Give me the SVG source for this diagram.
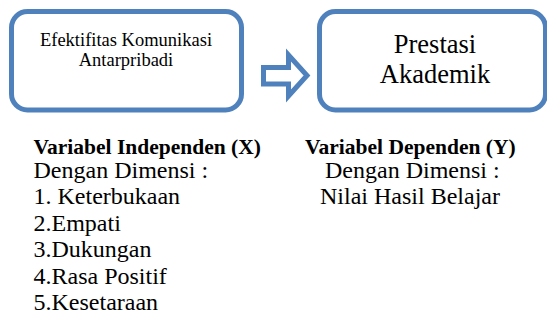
<svg xmlns="http://www.w3.org/2000/svg" width="547" height="320" viewBox="0 0 547 320">
<style>
.box{fill:#fff;stroke:#4F81BD;stroke-width:5}
text{font-family:'Liberation Serif','Times New Roman',Tinos,'DejaVu Serif','Noto Serif',serif;fill:#000}
.b{font-weight:bold;font-size:21.5px}
.r{font-size:24px}
</style>
<rect width="547" height="320" fill="#fff"/>
<g id="node-x">
<rect class="box" x="11.5" y="11.5" width="230" height="98.5" rx="16"/>
<text font-size="18.5" text-anchor="middle"><tspan x="126" y="45.5">Efektifitas Komunikasi</tspan><tspan x="126" y="66">Antarpribadi</tspan></text>
</g>
<g id="node-y">
<rect class="box" x="319.5" y="11.5" width="226" height="98.5" rx="16"/>
<text font-size="26.5" text-anchor="middle"><tspan x="435" y="53">Prestasi</tspan><tspan x="435" y="82.5">Akademik</tspan></text>
</g>
<g id="connectors">
<path d="M263.5,67.5 H288.5 V55 L307,75.5 L288.5,96 V84 H263.5 Z" fill="#fff" stroke="#4F81BD" stroke-width="5" stroke-linejoin="miter"/>
</g>
<g id="desc-x">
<text class="b" x="33.5" y="153.5">Variabel Independen (X)</text>
<text class="r" x="33.5" y="177.5">Dengan Dimensi :</text>
<text class="r" x="33.5" y="204">1. Keterbukaan</text>
<text class="r" x="33.5" y="230.5">2.Empati</text>
<text class="r" x="33.5" y="257">3.Dukungan</text>
<text class="r" x="33.5" y="283.5">4.Rasa Positif</text>
<text class="r" x="33.5" y="310">5.Kesetaraan</text>
</g>
<g id="desc-y">
<text class="b" x="305" y="153.5">Variabel Dependen (Y)</text>
<text class="r" x="325" y="177.5">Dengan Dimensi :</text>
<text class="r" x="320" y="204">Nilai Hasil Belajar</text>
</g>
</svg>
